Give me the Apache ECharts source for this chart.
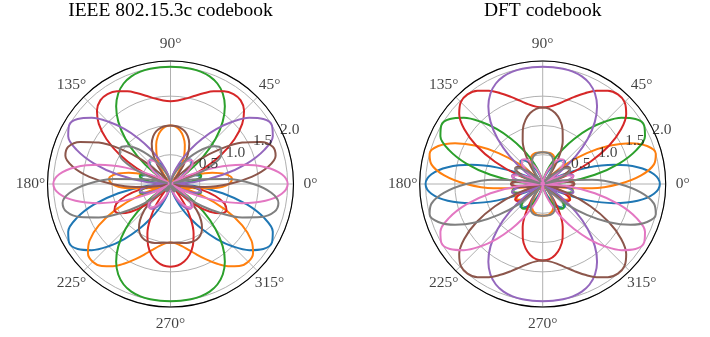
<!DOCTYPE html>
<html><head><meta charset="utf-8">
<script src="https://cdn.jsdelivr.net/npm/echarts@6/dist/echarts.min.js"></script>
<style>html,body{margin:0;padding:0;background:#fff}#c{width:710px;height:337px}</style>
</head><body><div id="c"></div>
<script>
// beam angle samples (deg), pattern is mirrored about the vertical axis (theta -> 180 - theta)
const thetaDeg = [-90,-85,-80,-75,-70,-65,-60,-55,-50,-45,-40,-35,-30,-25,-20,-15,-10,-5,0,5,10,15,20,25,30,35,40,45,50,55,60,65,70,75,80,85,90];

// IEEE 802.15.3c codebook beam gains
const ieeeBlue   = [0,0.017,0.069,0.159,0.291,0.466,0.686,0.944,1.226,1.508,1.757,1.934,2.000,1.927,1.705,1.350,0.904,0.431,0,0.327,0.509,0.537,0.432,0.235,0,0.224,0.401,0.509,0.544,0.517,0.444,0.346,0.240,0.143,0.066,0.017,0];
const ieeeOrange = [1.000,1.018,1.071,1.158,1.276,1.416,1.568,1.713,1.826,1.878,1.840,1.689,1.414,1.025,0.553,0.052,0.414,0.780,1.000,1.053,0.953,0.739,0.471,0.208,0,0.121,0.147,0.086,0.041,0.207,0.388,0.562,0.715,0.839,0.928,0.982,1.000];
const ieeeGreen  = [2.000,2.000,1.997,1.986,1.955,1.893,1.785,1.618,1.385,1.086,0.734,0.359,0,0.297,0.487,0.544,0.461,0.263,0,0.263,0.461,0.544,0.487,0.297,0,0.359,0.734,1.086,1.385,1.618,1.785,1.893,1.955,1.986,1.997,2.000,2.000];
const ieeeRed    = [1.414,1.397,1.345,1.253,1.117,0.933,0.697,0.414,0.094,0.241,0.560,0.825,1.000,1.056,0.981,0.791,0.523,0.238,0,0.134,0.128,0.022,0.292,0.636,1.000,1.333,1.598,1.776,1.864,1.875,1.827,1.745,1.648,1.555,1.480,1.431,1.414];
const ieeePurple = [0,0.017,0.066,0.143,0.240,0.346,0.444,0.517,0.544,0.509,0.401,0.224,0,0.235,0.432,0.537,0.509,0.327,0,0.431,0.904,1.350,1.705,1.927,2.000,1.934,1.757,1.508,1.226,0.944,0.686,0.466,0.291,0.159,0.069,0.017,0];
const ieeeBrown  = [1.000,1.006,1.021,1.041,1.055,1.051,1.016,0.939,0.811,0.633,0.420,0.196,0,0.125,0.140,0.021,0.233,0.591,1.000,1.390,1.693,1.858,1.858,1.700,1.414,1.046,0.645,0.255,0.092,0.378,0.598,0.758,0.865,0.934,0.974,0.994,1.000];
const ieeePink   = [0,0.012,0.048,0.106,0.186,0.281,0.381,0.473,0.533,0.538,0.462,0.284,0,0.379,0.818,1.262,1.646,1.907,2.000,1.907,1.646,1.262,0.818,0.379,0,0.284,0.462,0.538,0.533,0.473,0.381,0.281,0.186,0.106,0.048,0.012,0];
const ieeeGray   = [0,0.008,0.032,0.067,0.106,0.138,0.149,0.121,0.036,0.119,0.352,0.654,1.000,1.349,1.647,1.836,1.871,1.728,1.414,0.970,0.458,0.051,0.490,0.813,1.000,1.056,1.005,0.880,0.718,0.547,0.390,0.259,0.157,0.083,0.035,0.009,0];

// DFT codebook beam gains
const dftBlue   = [0,0.012,0.048,0.106,0.186,0.281,0.381,0.473,0.533,0.538,0.462,0.284,0,0.379,0.818,1.262,1.646,1.907,2.000,1.907,1.646,1.262,0.818,0.379,0,0.284,0.462,0.538,0.533,0.473,0.381,0.281,0.186,0.106,0.048,0.012,0];
const dftOrange = [0.541,0.540,0.534,0.518,0.486,0.429,0.339,0.212,0.050,0.133,0.316,0.465,0.541,0.508,0.341,0.039,0.374,0.845,1.307,1.687,1.929,1.999,1.897,1.651,1.307,0.920,0.539,0.202,0.070,0.270,0.404,0.485,0.526,0.542,0.544,0.542,0.541];
const dftGreen  = [0,0.017,0.066,0.143,0.240,0.346,0.444,0.517,0.544,0.509,0.401,0.224,0,0.235,0.432,0.537,0.509,0.327,0,0.431,0.904,1.350,1.705,1.927,2.000,1.934,1.757,1.508,1.226,0.944,0.686,0.466,0.291,0.159,0.069,0.017,0];
const dftRed    = [1.307,1.288,1.230,1.132,0.992,0.809,0.587,0.336,0.073,0.177,0.383,0.512,0.541,0.459,0.276,0.028,0.232,0.441,0.541,0.495,0.293,0.040,0.457,0.899,1.307,1.636,1.861,1.977,1.997,1.942,1.838,1.711,1.582,1.468,1.380,1.326,1.307];
const dftPurple = [2.000,2.000,1.997,1.986,1.955,1.893,1.785,1.618,1.385,1.086,0.734,0.359,0,0.297,0.487,0.544,0.461,0.263,0,0.263,0.461,0.544,0.487,0.297,0,0.359,0.734,1.086,1.385,1.618,1.785,1.893,1.955,1.986,1.997,2.000,2.000];
const dftBrown  = [1.307,1.326,1.380,1.468,1.582,1.711,1.838,1.942,1.997,1.977,1.861,1.636,1.307,0.899,0.457,0.040,0.293,0.495,0.541,0.441,0.232,0.028,0.276,0.459,0.541,0.512,0.383,0.177,0.073,0.336,0.587,0.809,0.992,1.132,1.230,1.288,1.307];
const dftPink   = [0,0.017,0.069,0.159,0.291,0.466,0.686,0.944,1.226,1.508,1.757,1.934,2.000,1.927,1.705,1.350,0.904,0.431,0,0.327,0.509,0.537,0.432,0.235,0,0.224,0.401,0.509,0.544,0.517,0.444,0.346,0.240,0.143,0.066,0.017,0];
const dftGray   = [0.541,0.542,0.544,0.542,0.526,0.485,0.404,0.270,0.070,0.202,0.539,0.920,1.307,1.651,1.897,1.999,1.929,1.687,1.307,0.845,0.374,0.039,0.341,0.508,0.541,0.465,0.316,0.133,0.050,0.212,0.339,0.429,0.486,0.518,0.534,0.540,0.541];

const titles = ['IEEE 802.15.3c codebook', 'DFT codebook'];
const angleTicks = [0, 45, 90, 135, 180, 225, 270, 315];
const radialTicks = [0.5, 1.0, 1.5, 2.0];
const rMax = 2.1;
const colors = ['#1f77b4','#ff7f0e','#2ca02c','#d62728','#9467bd','#8c564b','#e377c2','#7f7f7f'];
const groups = [
  [ieeeBlue, ieeeOrange, ieeeGreen, ieeeRed, ieeePurple, ieeeBrown, ieeePink, ieeeGray],
  [dftBlue, dftOrange, dftGreen, dftRed, dftPurple, dftBrown, dftPink, dftGray]
];

const FONT = "'Liberation Serif', 'DejaVu Serif', serif";
const centers = [[170.5, 184], [542.7, 184]];
const R = 123;
const labelR = rMax * 140 / R;

function loop(vals) {
  const pts = [];
  const n = thetaDeg.length;
  for (let i = 0; i < n; i++) pts.push([vals[i], (thetaDeg[i] + 360) % 360]);
  for (let i = n - 2; i >= 0; i--) pts.push([vals[i], 180 - thetaDeg[i]]);
  return pts;
}

const polar = [], angleAxis = [], radiusAxis = [], series = [], graphic = [];
for (let p = 0; p < 2; p++) {
  polar.push({ center: centers[p], radius: R });
  angleAxis.push({
    polarIndex: p, type: 'value', min: 0, max: 360, interval: 45, startAngle: 0, clockwise: false, z: 1,
    axisLine: { show: true, lineStyle: { color: '#000', width: 1.1 } },
    axisTick: { show: false }, axisLabel: { show: false },
    splitLine: { show: true, lineStyle: { color: '#b0b0b0', width: 1 } }
  });
  radiusAxis.push({
    polarIndex: p, type: 'value', min: 0, max: rMax, interval: 0.5,
    axisLine: { show: false }, axisTick: { show: false }, axisLabel: { show: false },
    splitLine: { show: true, lineStyle: { color: '#b0b0b0', width: 1 } }
  });
  groups[p].forEach((vals, k) => {
    series.push({
      type: 'line', coordinateSystem: 'polar', polarIndex: p,
      data: loop(vals), showSymbol: false, symbol: 'none', smooth: 0.35,
      lineStyle: { color: colors[k], width: 2 }, itemStyle: { color: colors[k] },
      silent: true, animation: false, z: 3
    });
  });
  series.push({
    type: 'scatter', coordinateSystem: 'polar', polarIndex: p, clip: false, silent: true,
    symbolSize: 1, itemStyle: { color: 'rgba(0,0,0,0)' }, z: 10,
    data: angleTicks.map(a => [labelR, a]),
    label: { show: true, position: 'inside', color: '#111', fontFamily: FONT, fontSize: 15.5,
      formatter: q => q.value[1] + '°' }
  });
  series.push({
    type: 'scatter', coordinateSystem: 'polar', polarIndex: p, clip: false, silent: true,
    symbolSize: 1, itemStyle: { color: 'rgba(0,0,0,0)' }, z: 10,
    data: radialTicks.map(v => [v, 22.5]),
    label: { show: true, position: 'inside', offset: [11, -9], color: '#111', fontFamily: FONT, fontSize: 15.5,
      formatter: q => q.value[0].toFixed(1) }
  });
  graphic.push({
    type: 'text', x: centers[p][0], y: 11,
    style: { text: titles[p], fill: '#000', font: "19.5px " + FONT, textAlign: 'center', textVerticalAlign: 'middle' }
  });
}

const chart = echarts.init(document.getElementById('c'), null, { renderer: 'canvas' });
chart.setOption({
  backgroundColor: '#fff', animation: false,
  polar, angleAxis, radiusAxis, series, graphic
});
</script></body></html>
